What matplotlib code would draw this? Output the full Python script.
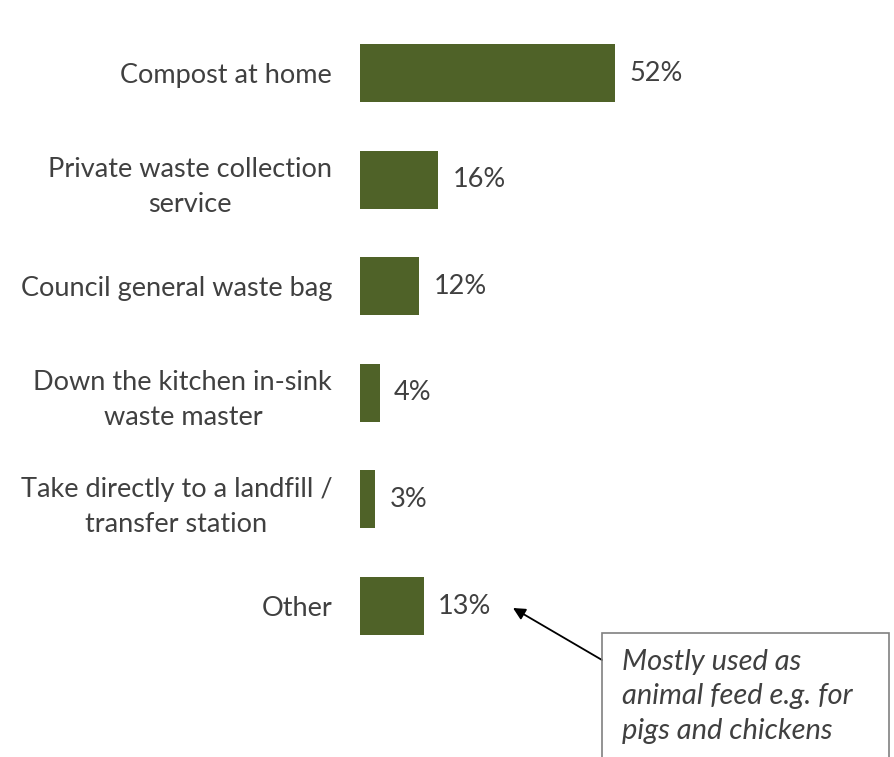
import matplotlib
matplotlib.use("Agg")
import matplotlib.pyplot as plt
from matplotlib.patches import Rectangle

plt.rcParams['font.family'] = ['Lato', 'DejaVu Sans']

categories = ["Compost at home",
              "Private waste collection\nservice",
              "Council general waste bag",
              "Down the kitchen in-sink\nwaste master",
              "Take directly to a landfill /\ntransfer station",
              "Other"]
shares = [52, 16, 12, 4, 3, 13]
note = "Mostly used as\nanimal feed e.g. for\npigs and chickens"

W, H = 895, 757
bar_color = "#4F6228"
text_color = "#404040"

fig = plt.figure(figsize=(W / 100, H / 100), dpi=100)
# axes placed in pixel terms: bars start at x=360, rows are ~106.6px apart
ax = fig.add_axes([360 / W, 1 - 659.3 / H, 490 / W, (659.3 - 19.7) / H])
ypos = list(range(len(categories)))
ax.barh(ypos, shares, height=0.545, color=bar_color)
ax.set_xlim(0, 100)
ax.set_ylim(len(categories) - 0.5, -0.5)
ax.set_yticks(ypos)
ax.set_yticklabels(categories, fontsize=19.5, color=text_color,
                   multialignment="center", linespacing=1.5)
ax.tick_params(axis="y", length=0, pad=20)
ax.set_xticks([])
for s in ax.spines.values():
    s.set_visible(False)

for y, v in zip(ypos, shares):
    ax.annotate(f"{v}%", (v, y), xytext=(10.5, 0), textcoords="offset points",
                va="center", ha="left", fontsize=19.5, color=text_color)

# callout box for the "Other" row, runs off the bottom edge
box = Rectangle((602 / W, -0.05), (889 - 602) / W, 1 - 633 / H + 0.05,
                transform=fig.transFigure, fill=False, edgecolor="#808080",
                linewidth=1.2, clip_on=False)
fig.patches.append(box)
fig.text(622 / W, 1 - 649 / H, note, ha="left", va="top", fontsize=21,
         style="italic", color=text_color, linespacing=1.4)
ax.annotate("", xy=(513 / W, 1 - 608 / H), xycoords="figure fraction",
            xytext=(602 / W, 1 - 660 / H), textcoords="figure fraction",
            arrowprops=dict(arrowstyle="-|>", color="black", lw=1.3,
                            mutation_scale=18, shrinkA=0, shrinkB=0))

fig.savefig("out.png", dpi=100)
